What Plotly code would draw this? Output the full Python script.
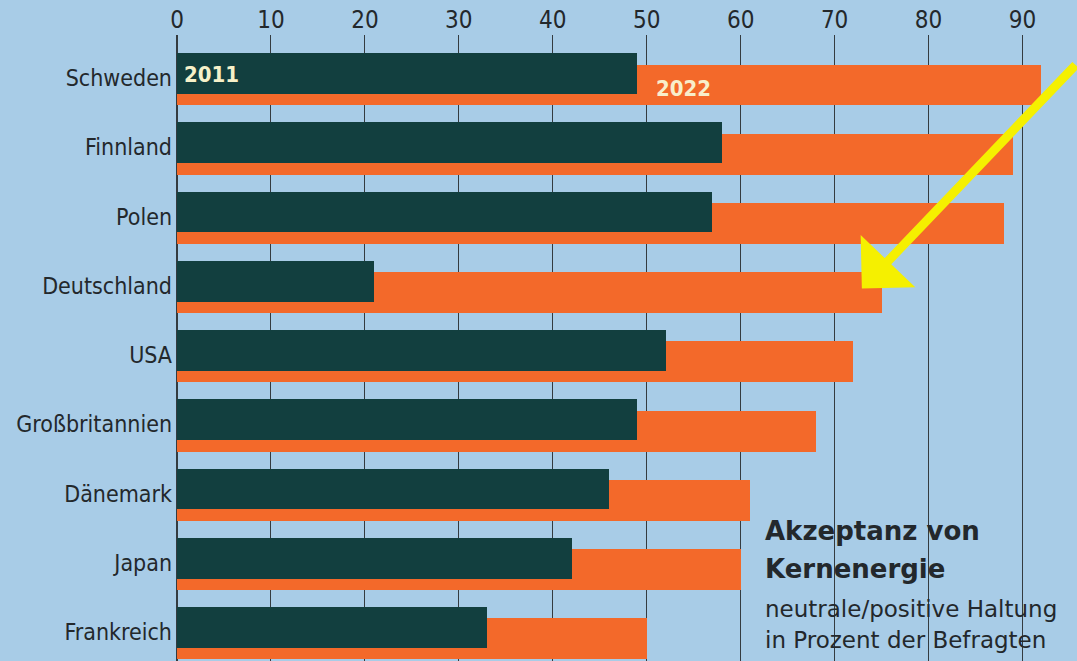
import plotly.graph_objects as go

countries = ["Schweden", "Finnland", "Polen", "Deutschland", "USA",
             "Großbritannien", "Dänemark", "Japan", "Frankreich"]
v2011 = [49, 58, 57, 21, 52, 49, 46, 42, 33]
v2022 = [92, 89, 88, 75, 72, 68, 61, 60, 50]
xticks = [0, 10, 20, 30, 40, 50, 60, 70, 80, 90]

DARK = "#123f3f"
ORANGE = "#f3692a"
BG = "#a8cce7"
TXT = "#23282c"
COND = "DejaVu Sans Condensed, Liberation Sans Narrow, sans-serif"

idx = list(range(len(countries)))

fig = go.Figure()
fig.add_trace(go.Bar(orientation="h", x=v2022, y=idx, width=0.59, offset=-0.195,
                     marker=dict(color=ORANGE, line=dict(width=0)), name="2022",
                     hoverinfo="x"))
fig.add_trace(go.Bar(orientation="h", x=v2011, y=idx, width=0.59, offset=-0.36,
                     marker=dict(color=DARK, line=dict(width=0)), name="2011",
                     hoverinfo="x"))

ann = []
ann.append(dict(x=0.5, y=-0.045, xref="x", yref="y", text="<b>2011</b>", showarrow=False,
                xanchor="left", yanchor="middle",
                font=dict(family=COND, size=22, color="#f6f1c9")))
ann.append(dict(x=50.8, y=0.145, xref="x", yref="y", text="<b>2022</b>", showarrow=False,
                xanchor="left", yanchor="middle",
                font=dict(family=COND, size=22, color="#f8eecb")))
# title block
title_x = 62.4
for txt, ypix, bold, sz in [("Akzeptanz von", 531, True, 26),
                            ("Kernenergie", 569, True, 26),
                            ("neutrale/positive Haltung", 609, False, 23),
                            ("in Prozent der Befragten", 640, False, 23)]:
    ann.append(dict(x=title_x, y=(ypix - 78) / 69.25, xref="x", yref="y",
                    text=("<b>%s</b>" % txt) if bold else txt, showarrow=False,
                    xanchor="left", yanchor="middle",
                    font=dict(family="DejaVu Sans, sans-serif", size=sz, color=TXT)))
# yellow arrow pointing at Deutschland 2022
ann.append(dict(x=72.9, y=3.04, xref="x", yref="y", text="", showarrow=True,
                ax=240, ay=-225, arrowhead=1, arrowsize=1.4, arrowwidth=9,
                arrowcolor="#f5f000"))

fig.update_layout(
    width=1077, height=661,
    margin=dict(l=177, r=0, t=35, b=0),
    paper_bgcolor=BG, plot_bgcolor=BG,
    barmode="overlay", bargap=0,
    showlegend=False,
    annotations=ann,
    xaxis=dict(side="top", range=[0, 95.8], tickvals=xticks,
               ticktext=[str(t) for t in xticks],
               tickfont=dict(family=COND, size=24, color=TXT),
               showgrid=True, gridcolor="#343b40", gridwidth=1.3,
               zeroline=True, zerolinecolor="#343b40", zerolinewidth=1.6,
               showline=False, ticks="", ticklabelstandoff=1, fixedrange=True),
    yaxis=dict(range=[8.42, -0.621], tickvals=idx, ticktext=countries,
               tickfont=dict(family=COND, size=23, color=TXT),
               showgrid=False, zeroline=False, showline=False, ticks="",
               ticklabelstandoff=4, fixedrange=True),
)

fig.write_html("out.html", config={"displayModeBar": False},
               post_script="document.body.style.margin='0';")
